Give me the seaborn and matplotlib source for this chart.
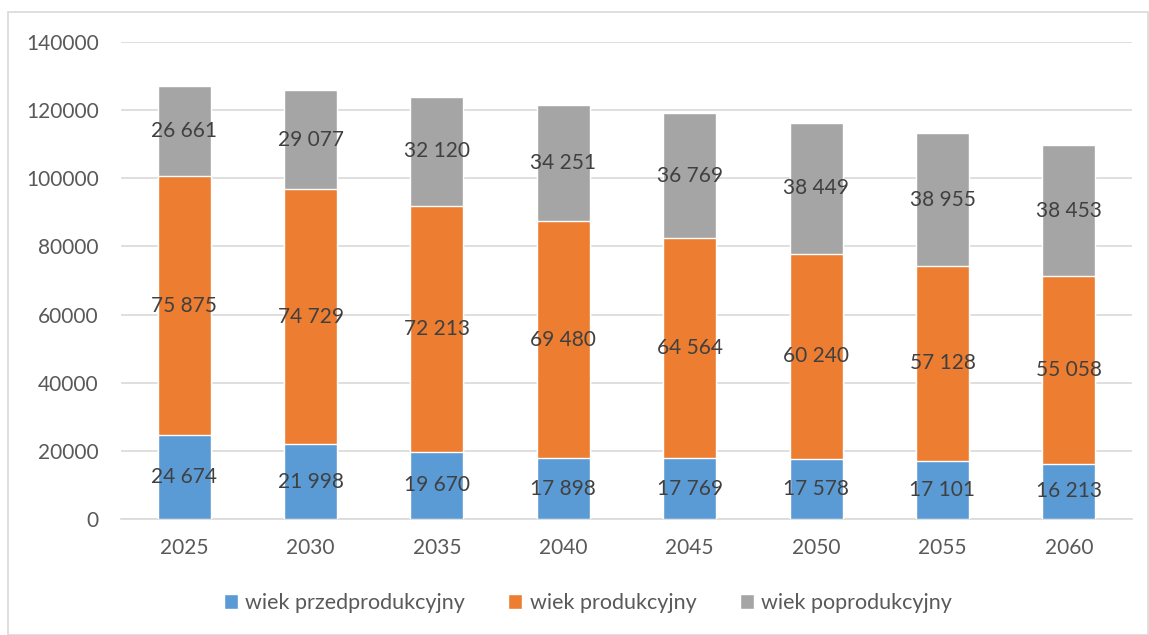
import numpy as np
import pandas as pd
import matplotlib.pyplot as plt
import seaborn as sns
from matplotlib.patches import Rectangle

years = ['2025', '2030', '2035', '2040', '2045', '2050', '2055', '2060']
przed = [24674, 21998, 19670, 17898, 17769, 17578, 17101, 16213]
prod = [75875, 74729, 72213, 69480, 64564, 60240, 57128, 55058]
poprod = [26661, 29077, 32120, 34251, 36769, 38449, 38955, 38453]

series = ['wiek przedprodukcyjny', 'wiek produkcyjny', 'wiek poprodukcyjny']
colors = ['#5B9BD5', '#ED7D31', '#A5A5A5']

sns.set_style('white')
plt.rcParams['font.family'] = ['Lato', 'DejaVu Sans']

df = pd.DataFrame({'rok': years, 'przed': przed, 'prod': prod, 'poprod': poprod})
df['c1'] = df['przed']
df['c2'] = df['przed'] + df['prod']
df['c3'] = df['c2'] + df['poprod']

fig = plt.figure(figsize=(11.49, 6.35), dpi=100)
ax = fig.add_axes([121 / 1149, 1 - 519 / 635, (1132 - 121) / 1149, (519 - 42) / 635])

# stacked bars drawn as overlapping cumulative bars
for col, c, name in zip(['c3', 'c2', 'c1'], colors[::-1], series[::-1]):
    sns.barplot(data=df, x='rok', y=col, color=c, width=0.42, ax=ax,
                label=name, saturation=1, zorder=3)

# data labels in the middle of each segment
for i in range(len(years)):
    bottoms = [0, df['c1'][i], df['c2'][i]]
    vals = [przed[i], prod[i], poprod[i]]
    for b, v in zip(bottoms, vals):
        ax.text(i, b + v / 2, f'{v:,}'.replace(',', ' '), ha='center', va='center',
                fontsize=15, color='#404040', zorder=5)

ax.set_ylim(0, 140000)
ax.set_yticks(range(0, 140001, 20000))
ax.set_xlim(-0.5, len(years) - 0.5)
ax.set_xlabel('')
ax.set_ylabel('')
ax.yaxis.grid(True, color='#D9D9D9', linewidth=1.2, zorder=0)
ax.set_axisbelow(True)
for s in ['top', 'right', 'left']:
    ax.spines[s].set_visible(False)
ax.spines['bottom'].set_color('#D9D9D9')
ax.spines['bottom'].set_linewidth(1.2)
ax.tick_params(axis='both', length=0, labelsize=15, labelcolor='#595959')
ax.tick_params(axis='y', pad=16)
ax.tick_params(axis='x', pad=14)

handles, labels = ax.get_legend_handles_labels()
order = [labels.index(s) for s in series]
leg = fig.legend([handles[k] for k in order], [labels[k] for k in order],
                 loc='center', bbox_to_anchor=(588 / 1149, 1 - 603 / 635), ncol=3,
                 frameon=False, fontsize=15.5, handlelength=0.65, handleheight=0.65,
                 handletextpad=0.35, columnspacing=2.0)
for t in leg.get_texts():
    t.set_color('#595959')
if ax.get_legend() is not None:
    ax.get_legend().remove()

fig.patches.append(Rectangle((8 / 1149, 0), 1 - 9 / 1149, 1 - 12 / 635,
                             transform=fig.transFigure, fill=False,
                             edgecolor='#D9D9D9', linewidth=1.2))

fig.savefig('out.png', dpi=100)
